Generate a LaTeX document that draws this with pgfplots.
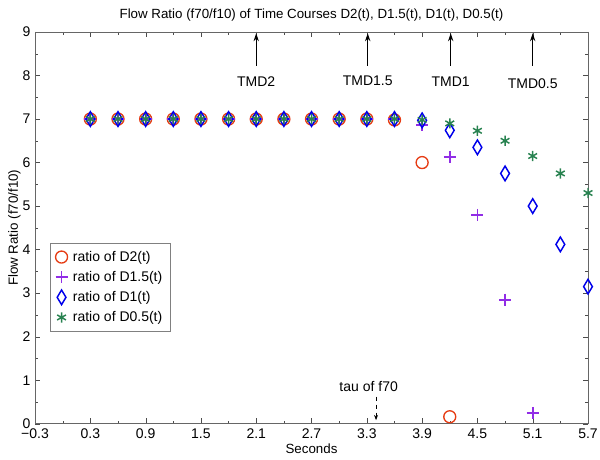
\documentclass[border=0pt]{standalone}
\usepackage{pgfplots}
\pgfplotsset{compat=1.18}
\usepackage{fontspec}
\setmainfont{Liberation Sans}
\usetikzlibrary{arrows.meta}
\definecolor{cRed}{RGB}{230,60,20}
\definecolor{cPur}{RGB}{145,45,230}
\definecolor{cBlu}{RGB}{0,0,235}
\definecolor{cGrn}{RGB}{40,130,80}
\begin{document}
\begin{tikzpicture}
\begin{axis}[
  scale only axis, width=415pt, height=294pt,
  xmin=-0.3, xmax=5.7, ymin=0, ymax=9,
  xtick={-0.3,0.3,0.9,1.5,2.1,2.7,3.3,3.9,4.5,5.1,5.7},
  xticklabels={−0.3,0.3,0.9,1.5,2.1,2.7,3.3,3.9,4.5,5.1,5.7},
  ytick={0,1,...,9},
  minor x tick num=1, minor y tick num=1,
  tick align=inside, tick pos=both,
  major tick length=4pt, minor tick length=2pt,
  tick style={black!70},
  axis line style={black!60},
  /pgf/number format/assume math mode=true,
  tick label style={font=\fontsize{10.5}{12}\selectfont},
  xticklabel style={yshift=-0.5pt},
  label style={font=\fontsize{10}{12}\selectfont},
  title style={font=\fontsize{10}{12}\selectfont, yshift=-1.5pt},
  title={Flow Ratio (f70/f10) of Time Courses D2(t), D1.5(t), D1(t), D0.5(t)},
  xlabel={Seconds}, ylabel={Flow Ratio (f70/f10)},
  xlabel style={yshift=3pt}, ylabel style={yshift=-5.5pt},
  legend style={at={(0.027,0.462)}, anchor=north west, draw=black!50,
    font=\fontsize{10.5}{12}\selectfont, row sep=2pt, inner sep=4pt,
    nodes={inner sep=2pt},
    /tikz/every odd column/.append style={column sep=2pt}},
  legend cell align=left,
  legend image code/.code={\draw[#1] plot coordinates {(0.3cm,0cm)};},
]
\addplot[only marks, mark=o, mark size=4.5pt, cRed, line width=1pt] coordinates {
(0.3,7)(0.6,7)(0.9,7)(1.2,7)(1.5,7)(1.8,7)(2.1,7)(2.4,7)(2.7,7)(3.0,7)(3.3,7)(3.6,6.98)(3.9,6.0)(4.2,0.16)};
\addlegendentry{ratio of D2(t)}
\addplot[only marks, mark=+, mark size=4.5pt, cPur, line width=1.3pt] coordinates {
(0.3,7)(0.6,7)(0.9,7)(1.2,7)(1.5,7)(1.8,7)(2.1,7)(2.4,7)(2.7,7)(3.0,7)(3.3,7)(3.6,7)(3.9,6.86)(4.2,6.13)(4.5,4.8)(4.8,2.85)(5.1,0.25)};
\addlegendentry{ratio of D1.5(t)}
\addplot[only marks, mark=diamond, mark size=5.5pt, mark options={xscale=0.8}, cBlu, line width=1.1pt] coordinates {
(0.3,7)(0.6,7)(0.9,7)(1.2,7)(1.5,7)(1.8,7)(2.1,7)(2.4,7)(2.7,7)(3.0,7)(3.3,7)(3.6,7)(3.9,6.97)(4.2,6.74)(4.5,6.35)(4.8,5.75)(5.1,5.0)(5.4,4.12)(5.7,3.15)};
\addlegendentry{ratio of D1(t)}
\addplot[only marks, mark=asterisk, mark size=3.8pt, cGrn, line width=1.1pt] coordinates {
(0.3,7)(0.6,7)(0.9,7)(1.2,7)(1.5,7)(1.8,7)(2.1,7)(2.4,7)(2.7,7)(3.0,7)(3.3,7)(3.6,7)(3.9,6.98)(4.2,6.9)(4.5,6.73)(4.8,6.5)(5.1,6.15)(5.4,5.75)(5.7,5.3)};
\addlegendentry{ratio of D0.5(t)}
\draw[-{Stealth[length=6pt,width=4pt]}, line width=0.8pt] (axis cs:2.1,8.22) -- (axis cs:2.1,8.97);
\draw[-{Stealth[length=6pt,width=4pt]}, line width=0.8pt] (axis cs:3.31,8.22) -- (axis cs:3.31,8.97);
\draw[-{Stealth[length=6pt,width=4pt]}, line width=0.8pt] (axis cs:4.21,8.22) -- (axis cs:4.21,8.97);
\draw[-{Stealth[length=6pt,width=4pt]}, line width=0.8pt] (axis cs:5.1,8.22) -- (axis cs:5.1,8.97);
\node[font=\fontsize{10.5}{12}\selectfont] at (axis cs:2.1,7.87) {TMD2};
\node[font=\fontsize{10.5}{12}\selectfont] at (axis cs:3.31,7.87) {TMD1.5};
\node[font=\fontsize{10.5}{12}\selectfont] at (axis cs:4.21,7.85) {TMD1};
\node[font=\fontsize{10.5}{12}\selectfont] at (axis cs:5.1,7.82) {TMD0.5};
\draw[dashed, -{Stealth[length=4pt,width=3pt]}, line width=0.7pt] (axis cs:3.4,0.62) -- (axis cs:3.4,0.08);
\node[font=\fontsize{10.5}{12}\selectfont] at (axis cs:3.32,0.85) {tau of f70};
\end{axis}
\pgfresetboundingbox
\useasboundingbox ([xshift=-26.3pt,yshift=-27pt]current axis.south west) rectangle ([xshift=9pt,yshift=24pt]current axis.north east);
\end{tikzpicture}
\end{document}
